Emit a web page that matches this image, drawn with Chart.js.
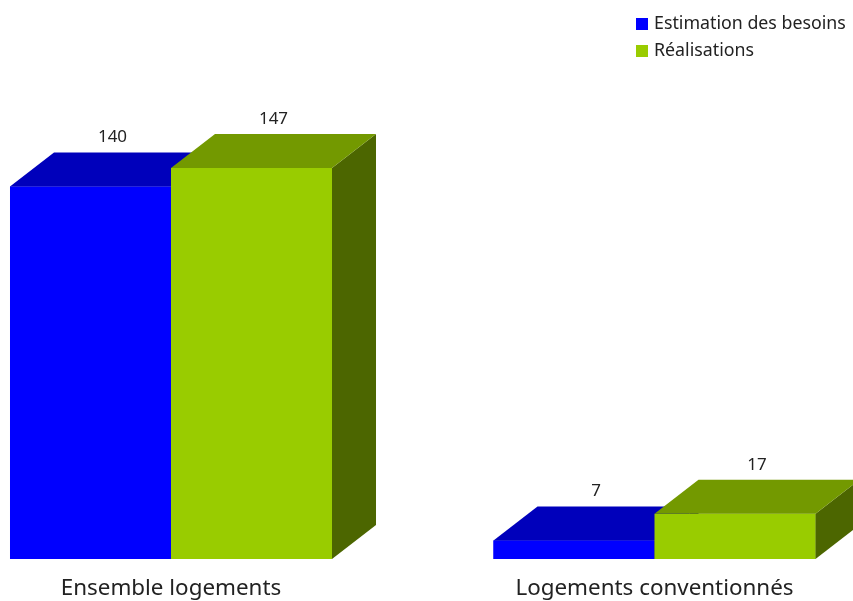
<!DOCTYPE html>
<html>
<head>
<meta charset="utf-8">
<script src="https://cdn.jsdelivr.net/npm/chart.js@4"></script>
<style>
  body { margin: 0; background: #fff; }
  #wrap { position: relative; width: 853px; height: 601px; }
  #legend { position: absolute; left: 636px; top: 11px; font-family: "Noto Sans", sans-serif; font-size: 17.8px; color: #222; }
  #legend div { height: 27px; line-height: 22px; white-space: nowrap; }
  #legend span.box { display: inline-block; width: 12px; height: 12px; margin-right: 6px; vertical-align: -1px; }
</style>
</head>
<body>
<div id="wrap">
  <canvas id="chart" width="853" height="601"></canvas>
  <div id="legend"></div>
</div>
<script>
// data
const categories = ['Ensemble logements', 'Logements conventionnés'];
const seriesNames = ['Estimation des besoins', 'Réalisations'];
const besoins = [140, 7];
const realisations = [147, 17];

// colours: front, top, side
const faces = [
    ['#0000ff', '#0000bb', '#00007f'],
    ['#99cc00', '#739900', '#4c6600']
];
const depthX = 44, depthY = 34;

const bars3d = {
    id: 'bars3d',
    afterDatasetsDraw(chart) {
        const ctx = chart.ctx;
        ctx.save();
        chart.data.datasets.forEach(function(ds, d) {
            const meta = chart.getDatasetMeta(d);
            meta.data.forEach(function(bar, i) {
                const l = bar.x - bar.width / 2, r = bar.x + bar.width / 2;
                const t = bar.y, b = bar.base;
                // front
                ctx.fillStyle = faces[d][0];
                ctx.fillRect(l, t, r - l, b - t);
                // side
                ctx.fillStyle = faces[d][2];
                ctx.beginPath();
                ctx.moveTo(r, t); ctx.lineTo(r + depthX, t - depthY);
                ctx.lineTo(r + depthX, b - depthY); ctx.lineTo(r, b);
                ctx.closePath(); ctx.fill();
                // top
                ctx.fillStyle = faces[d][1];
                ctx.beginPath();
                ctx.moveTo(l, t); ctx.lineTo(l + depthX, t - depthY);
                ctx.lineTo(r + depthX, t - depthY); ctx.lineTo(r, t);
                ctx.closePath(); ctx.fill();
                // value
                ctx.fillStyle = '#222';
                ctx.font = '17px "Noto Sans", sans-serif';
                ctx.textAlign = 'center';
                ctx.textBaseline = 'middle';
                ctx.fillText(ds.data[i], bar.x + depthX / 2, t - depthY - 15);
            });
        });
        ctx.restore();
    }
};

const ctx = document.getElementById('chart').getContext('2d');
const myChart = new Chart(ctx, {
    type: 'bar',
    data: {
        labels: categories,
        datasets: [
            { label: seriesNames[0], data: besoins, backgroundColor: faces[0][0], clip: false },
            { label: seriesNames[1], data: realisations, backgroundColor: faces[1][0], clip: false }
        ]
    },
    options: {
        responsive: false,
        animation: false,
        categoryPercentage: 0.666,
        barPercentage: 1,
        layout: { padding: { left: 171, right: 198.5, top: 133.4, bottom: 0 } },
        plugins: { legend: { display: false }, tooltip: { enabled: false } },
        scales: {
            x: {
                offset: false,
                grid: { display: false, drawTicks: false },
                border: { display: false },
                ticks: { color: '#222', padding: 16, maxRotation: 0, font: { family: 'Noto Sans', size: 22.4, lineHeight: 1.2 } },
                afterFit: function(scale) { scale.height = 42; }
            },
            y: { display: false, min: 0, max: 160 }
        }
    },
    plugins: [bars3d]
});

// html legend
const legend = document.getElementById('legend');
myChart.data.datasets.forEach(function(ds) {
    const row = document.createElement('div');
    row.innerHTML = '<span class="box" style="background:' + ds.backgroundColor + '"></span>' + ds.label;
    legend.appendChild(row);
});
</script>
</body>
</html>
